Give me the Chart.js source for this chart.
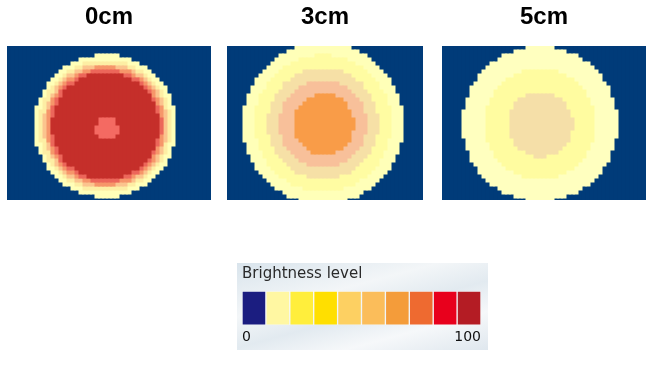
<!DOCTYPE html>
<html>
<head>
<meta charset="utf-8">
<script src="https://cdn.jsdelivr.net/npm/chart.js@4"></script>
<style>
  html, body { margin:0; padding:0; background:#ffffff; width:649px; height:383px; overflow:hidden; }
  canvas { position:absolute; display:block; }
  #legendBox { position:absolute; left:237px; top:263px; width:251px; height:87px;
    background: linear-gradient(165deg, #d9e4ec 0%, #f3f6f8 35%, #e2eaf0 55%, #f6f8fa 75%, #dfe7ee 100%); }
</style>
</head>
<body>
<canvas id="p0" width="204" height="200" style="left:7px;top:0px"></canvas>
<canvas id="p1" width="196" height="200" style="left:227px;top:0px"></canvas>
<canvas id="p2" width="204" height="200" style="left:442px;top:0px"></canvas>
<div id="legendBox"></div>
<canvas id="lg" width="251" height="87" style="left:237px;top:263px"></canvas>
<script>
// ---- data (grid cell units, 4 px per cell) ----
const panelTitles = ['0cm', '3cm', '5cm'];
const panelCols = [51, 49, 51];
const panelRows = 38.5;
const navy = '#003b79';

// 0cm: rings from outside in, then the bright centre spot
const ringRadii0 = [17.75, 16.5, 15.5, 14.75, 14.0, 13.25, 2.75];
const ringCx0    = [24.6, 24.6, 24.6, 24.6, 24.6, 24.6, 25.0];
const ringCy0    = [20.0, 20.0, 20.0, 20.0, 20.0, 20.0, 20.75];
const ringColors0 = ['#ffffb8', '#fdeea4', '#fbc48e', '#f6966a', '#ec665a', '#c52f2a', '#f46a62'];

// 3cm
const ringRadii1 = [20, 17, 13.75, 10.75, 7.5];
const ringCx1    = [24, 24, 24, 24, 24.2];
const ringCy1    = [19.4, 19.4, 19.4, 19.5, 19.6];
const ringColors1 = ['#ffffb8', '#fffca2', '#f6e0a6', '#f8c09a', '#f99c48'];

// 5cm
const ringRadii2 = [19.25, 13.75, 8];
const ringCx2    = [24.5, 24.5, 24.6];
const ringCy2    = [19.5, 19.6, 19.6];
const ringColors2 = ['#ffffbf', '#fffca0', '#f5dfa8'];

// legend
const legendTitle = 'Brightness level';
const legendColors = ['#1b1d80', '#fff7a2', '#ffee3c', '#ffdf00', '#fdd062', '#fbbd5a', '#f49c3a', '#ee6a30', '#e8001c', '#b41c24'];
const legendSteps = [10, 10, 10, 10, 10, 10, 10, 10, 10, 10];
const legendTicks = [0, 100];

// ---- build floating-bar columns for a ring ----
function ringColumns(cols, rows, cx, cy, r) {
  const out = [];
  for (let i = 0; i < cols; i++) {
    const dx = i + 0.5 - cx;
    if (Math.abs(dx) >= r) { out.push(null); continue; }
    const h = Math.sqrt(r * r - dx * dx);
    let lo = Math.max(0, Math.round(cy - h));
    let hi = Math.min(rows, Math.round(cy + h));
    if (hi <= lo) { out.push(null); continue; }
    out.push([lo, hi]);
  }
  return out;
}

function makePanel(id, idx, radii, cxs, cys, colors) {
  const cols = panelCols[idx];
  const labels = [];
  for (let i = 0; i < cols; i++) labels.push(String(i));
  const datasets = [{
    data: labels.map(() => [0, panelRows]),
    backgroundColor: navy, grouped: false, order: radii.length + 1,
    categoryPercentage: 1, barPercentage: 1, borderWidth: 0, inflateAmount: 0.5
  }];
  radii.forEach((r, k) => {
    datasets.push({
      data: ringColumns(cols, panelRows, cxs[k], cys[k], r),
      backgroundColor: colors[k], grouped: false, order: radii.length - k,
      categoryPercentage: 1, barPercentage: 1, borderWidth: 0, inflateAmount: 0.5
    });
  });
  new Chart(document.getElementById(id), {
    type: 'bar',
    data: { labels, datasets },
    options: {
      responsive: false, animation: false, events: [],
      layout: { padding: 0 },
      plugins: {
        legend: { display: false }, tooltip: { enabled: false },
        title: { display: true, text: panelTitles[idx], color: '#000000',
          font: { family: 'Liberation Sans, Arial, sans-serif', size: 24, weight: 'bold' },
          padding: { top: 3, bottom: 14.2 } }
      },
      scales: {
        x: { display: false, offset: true },
        y: { display: false, min: 0, max: panelRows, reverse: true }
      }
    }
  });
}

makePanel('p0', 0, ringRadii0, ringCx0, ringCy0, ringColors0);
makePanel('p1', 1, ringRadii1, ringCx1, ringCy1, ringColors1);
makePanel('p2', 2, ringRadii2, ringCx2, ringCy2, ringColors2);

// ---- legend colour bar ----
new Chart(document.getElementById('lg'), {
  type: 'bar',
  data: {
    labels: [''],
    datasets: legendColors.map((c, i) => ({
      data: [legendSteps[i]], backgroundColor: c,
      borderColor: 'rgba(255,255,255,0.35)', borderWidth: 1, borderSkipped: false,
      categoryPercentage: 1, barPercentage: 1
    }))
  },
  options: {
    indexAxis: 'y', responsive: false, animation: false, events: [],
    layout: { padding: { left: 5, right: 7, top: 0, bottom: 0 } },
    plugins: {
      legend: { display: false }, tooltip: { enabled: false },
      title: { display: true, text: legendTitle, align: 'start', color: '#2a2a2a',
        font: { family: 'DejaVu Sans, sans-serif', size: 15, weight: 'normal' },
        padding: { top: 2, bottom: 8 } }
    },
    scales: {
      x: { stacked: true, min: legendTicks[0], max: legendTicks[1],
        grid: { display: false, drawTicks: false }, border: { display: false },
        afterBuildTicks: (axis) => { axis.ticks = legendTicks.map(v => ({ value: v })); },
        ticks: { align: 'inner', color: '#111111', padding: 4, maxRotation: 0,
          font: { family: 'DejaVu Sans, sans-serif', size: 14 } } },
      y: { stacked: true, display: false }
    }
  }
});
</script>
</body>
</html>
